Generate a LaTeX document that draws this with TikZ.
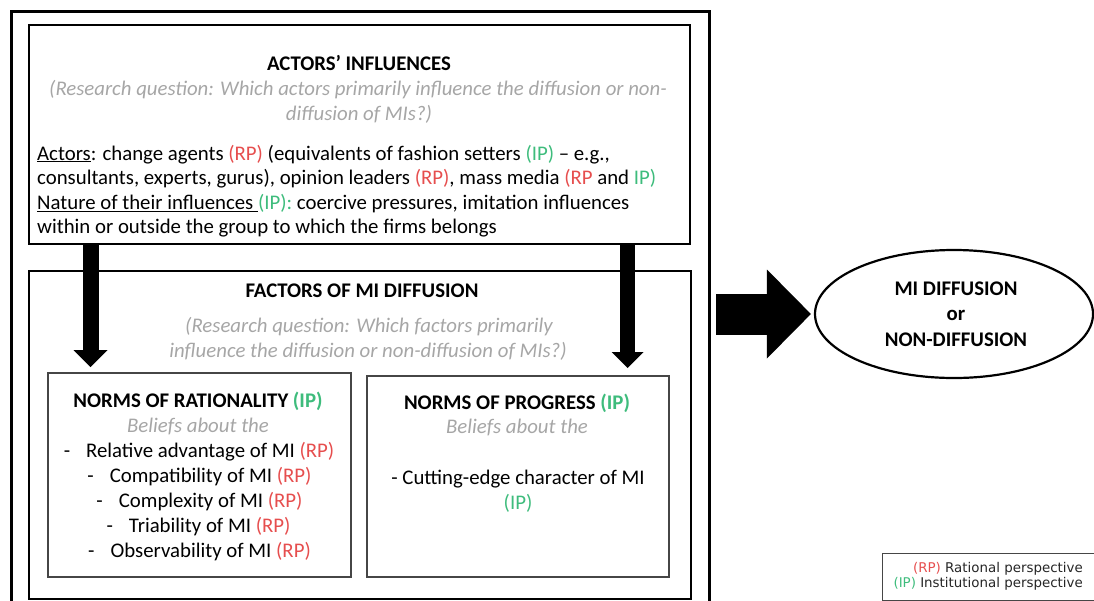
\documentclass[tikz,border=0pt]{standalone}
\usepackage{fontspec}
\setmainfont{Carlito}
\newfontfamily\legendfont{DejaVu Sans}
\usetikzlibrary{arrows.meta,shapes.geometric,calc}

\definecolor{rpred}{RGB}{230,78,78}
\definecolor{ipgreen}{RGB}{62,188,124}
\definecolor{qgray}{RGB}{166,166,166}
\definecolor{thinframe}{RGB}{70,70,70}

\newcommand{\rptag}{\textcolor{rpred}{(RP)}}
\newcommand{\iptag}{\textcolor{ipgreen}{(IP)}}

\tikzset{
  bigfont/.style={font=\fontsize{20.8}{25}\selectfont},
  tx/.style={inner sep=0pt, bigfont},
  hd/.style={inner sep=0pt, font=\fontsize{20.8}{25}\selectfont\bfseries},
  qs/.style={inner sep=0pt, text=qgray, font=\fontsize{20.8}{25}\selectfont\itshape},
  lg/.style={inner sep=0pt, text=black!85, font=\legendfont\fontsize{13.4}{14}\selectfont},
  box/.style={draw, rectangle, inner sep=0pt, anchor=north west},
  framebox/.style={box, line width=3pt},
  mainbox/.style={box, line width=2.2pt},
  normbox/.style={box, draw=thinframe, line width=1.6pt},
  downarrow/.style={line width=16pt, -{Triangle[width=34pt,length=17pt,line width=0pt]}},
  downarrowb/.style={line width=15pt, -{Triangle[width=32pt,length=16pt,line width=0pt]}},
  sidearrow/.style={line width=41pt, -{Triangle[width=89pt,length=44pt,line width=0pt]}},
}

\begin{document}
\begin{tikzpicture}[x=1pt,y=-1pt]
\useasboundingbox (0,0) rectangle (1094,600);

% frames
\node[framebox, minimum width=698pt, minimum height=600pt] (frame) at (10,10) {};
\node[mainbox, minimum width=661pt, minimum height=219pt] (actors) at (28,24) {};
\node[mainbox, minimum width=662pt, minimum height=328pt] (factors) at (28,270) {};
\node[normbox, minimum width=303pt, minimum height=204pt] (rational) at (47,372) {};
\node[normbox, minimum width=302pt, minimum height=201pt] (progress) at (366,375) {};

% outcome
\node[draw, ellipse, line width=2.2pt, minimum width=278pt, minimum height=128pt, inner sep=0pt] (result) at (954,314) {};
\node[hd, anchor=base] (r1) at (956,295) {MI DIFFUSION};
\node[hd, anchor=base] (r2) at (956,320.5) {or};
\node[hd, anchor=base] (r3) at (956,346) {NON-DIFFUSION};

% actors' influences
\node[hd, anchor=base] (a0) at (359,70) {ACTORS’ INFLUENCES};
\node[qs, anchor=base] (aq1) at (358,95) {(Research question: Which actors primarily influence the diffusion or non-};
\node[qs, anchor=base] (aq2) at (359,120) {diffusion of MIs?)};
\node[tx, anchor=base west] (a1) at (37,160) {\underline{Actors}: change agents \rptag{} (equivalents of fashion setters \iptag{} – e.g.,};
\node[tx, anchor=base west] (a2) at (37,184.6) {consultants, experts, gurus), opinion leaders \rptag, mass media \textcolor{rpred}{(RP} and \textcolor{ipgreen}{IP)}};
\node[tx, anchor=base west] (a3) at (37,209.2) {\underline{Nature of their influences\ }\textcolor{ipgreen}{(IP):} coercive pressures, imitation influences};
\node[tx, anchor=base west] (a4) at (37,233.8) {within or outside the group to which the firms belongs};

% factors of diffusion
\node[hd, anchor=base] (f0) at (362,297) {FACTORS OF MI DIFFUSION};
\node[qs, anchor=base] (fq1) at (369,332) {(Research question: Which factors primarily};
\node[qs, anchor=base] (fq2) at (368,357) {influence the diffusion or non-diffusion of MIs?)};

% norms of rationality
\node[hd, anchor=base] (n0) at (198,407) {NORMS OF RATIONALITY \iptag};
\node[qs, anchor=base] (nq) at (198,432) {Beliefs about the};
\node[tx, anchor=base] (n1) at (199,457) {-\hspace{16pt}Relative advantage of MI \rptag};
\node[tx, anchor=base] (n2) at (199.5,482) {-\hspace{16pt}Compatibility of MI \rptag};
\node[tx, anchor=base] (n3) at (199.5,507) {-\hspace{16pt}Complexity of MI \rptag};
\node[tx, anchor=base] (n4) at (198.5,532) {-\hspace{16pt}Triability of MI \rptag};
\node[tx, anchor=base] (n5) at (199.5,557) {-\hspace{16pt}Observability of MI \rptag};

% norms of progress
\node[hd, anchor=base] (p0) at (517,409) {NORMS OF PROGRESS \iptag};
\node[qs, anchor=base] (pq) at (517,433) {Beliefs about the};
\node[tx, anchor=base] (p1) at (518,484) {- Cutting-edge character of MI};
\node[tx, anchor=base] (p2) at (518,509) {\iptag};

% legend
\node[box, line width=0.8pt, draw=thinframe, minimum width=230pt, minimum height=47pt] (legend) at (882,553) {};
\node[lg, anchor=base east] (l1) at (1083,572.5) {\textcolor{rpred}{(RP)} Rational perspective};
\node[lg, anchor=base east] (l2) at (1083,587) {\textcolor{ipgreen}{(IP)} Institutional perspective};

% influence arrows
\coordinate (xl) at (90.5,0);
\coordinate (xr) at (627.5,0);
\draw[downarrow, shorten >=5pt] (actors.south -| xl) -- (rational.north -| xl);
\draw[downarrowb, shorten >=7pt] (actors.south -| xr) -- (progress.north -| xr);
\draw[sidearrow, shorten <=5pt, shorten >=3pt] (frame.east |- result.west) -- (result.west);

\end{tikzpicture}
\end{document}
